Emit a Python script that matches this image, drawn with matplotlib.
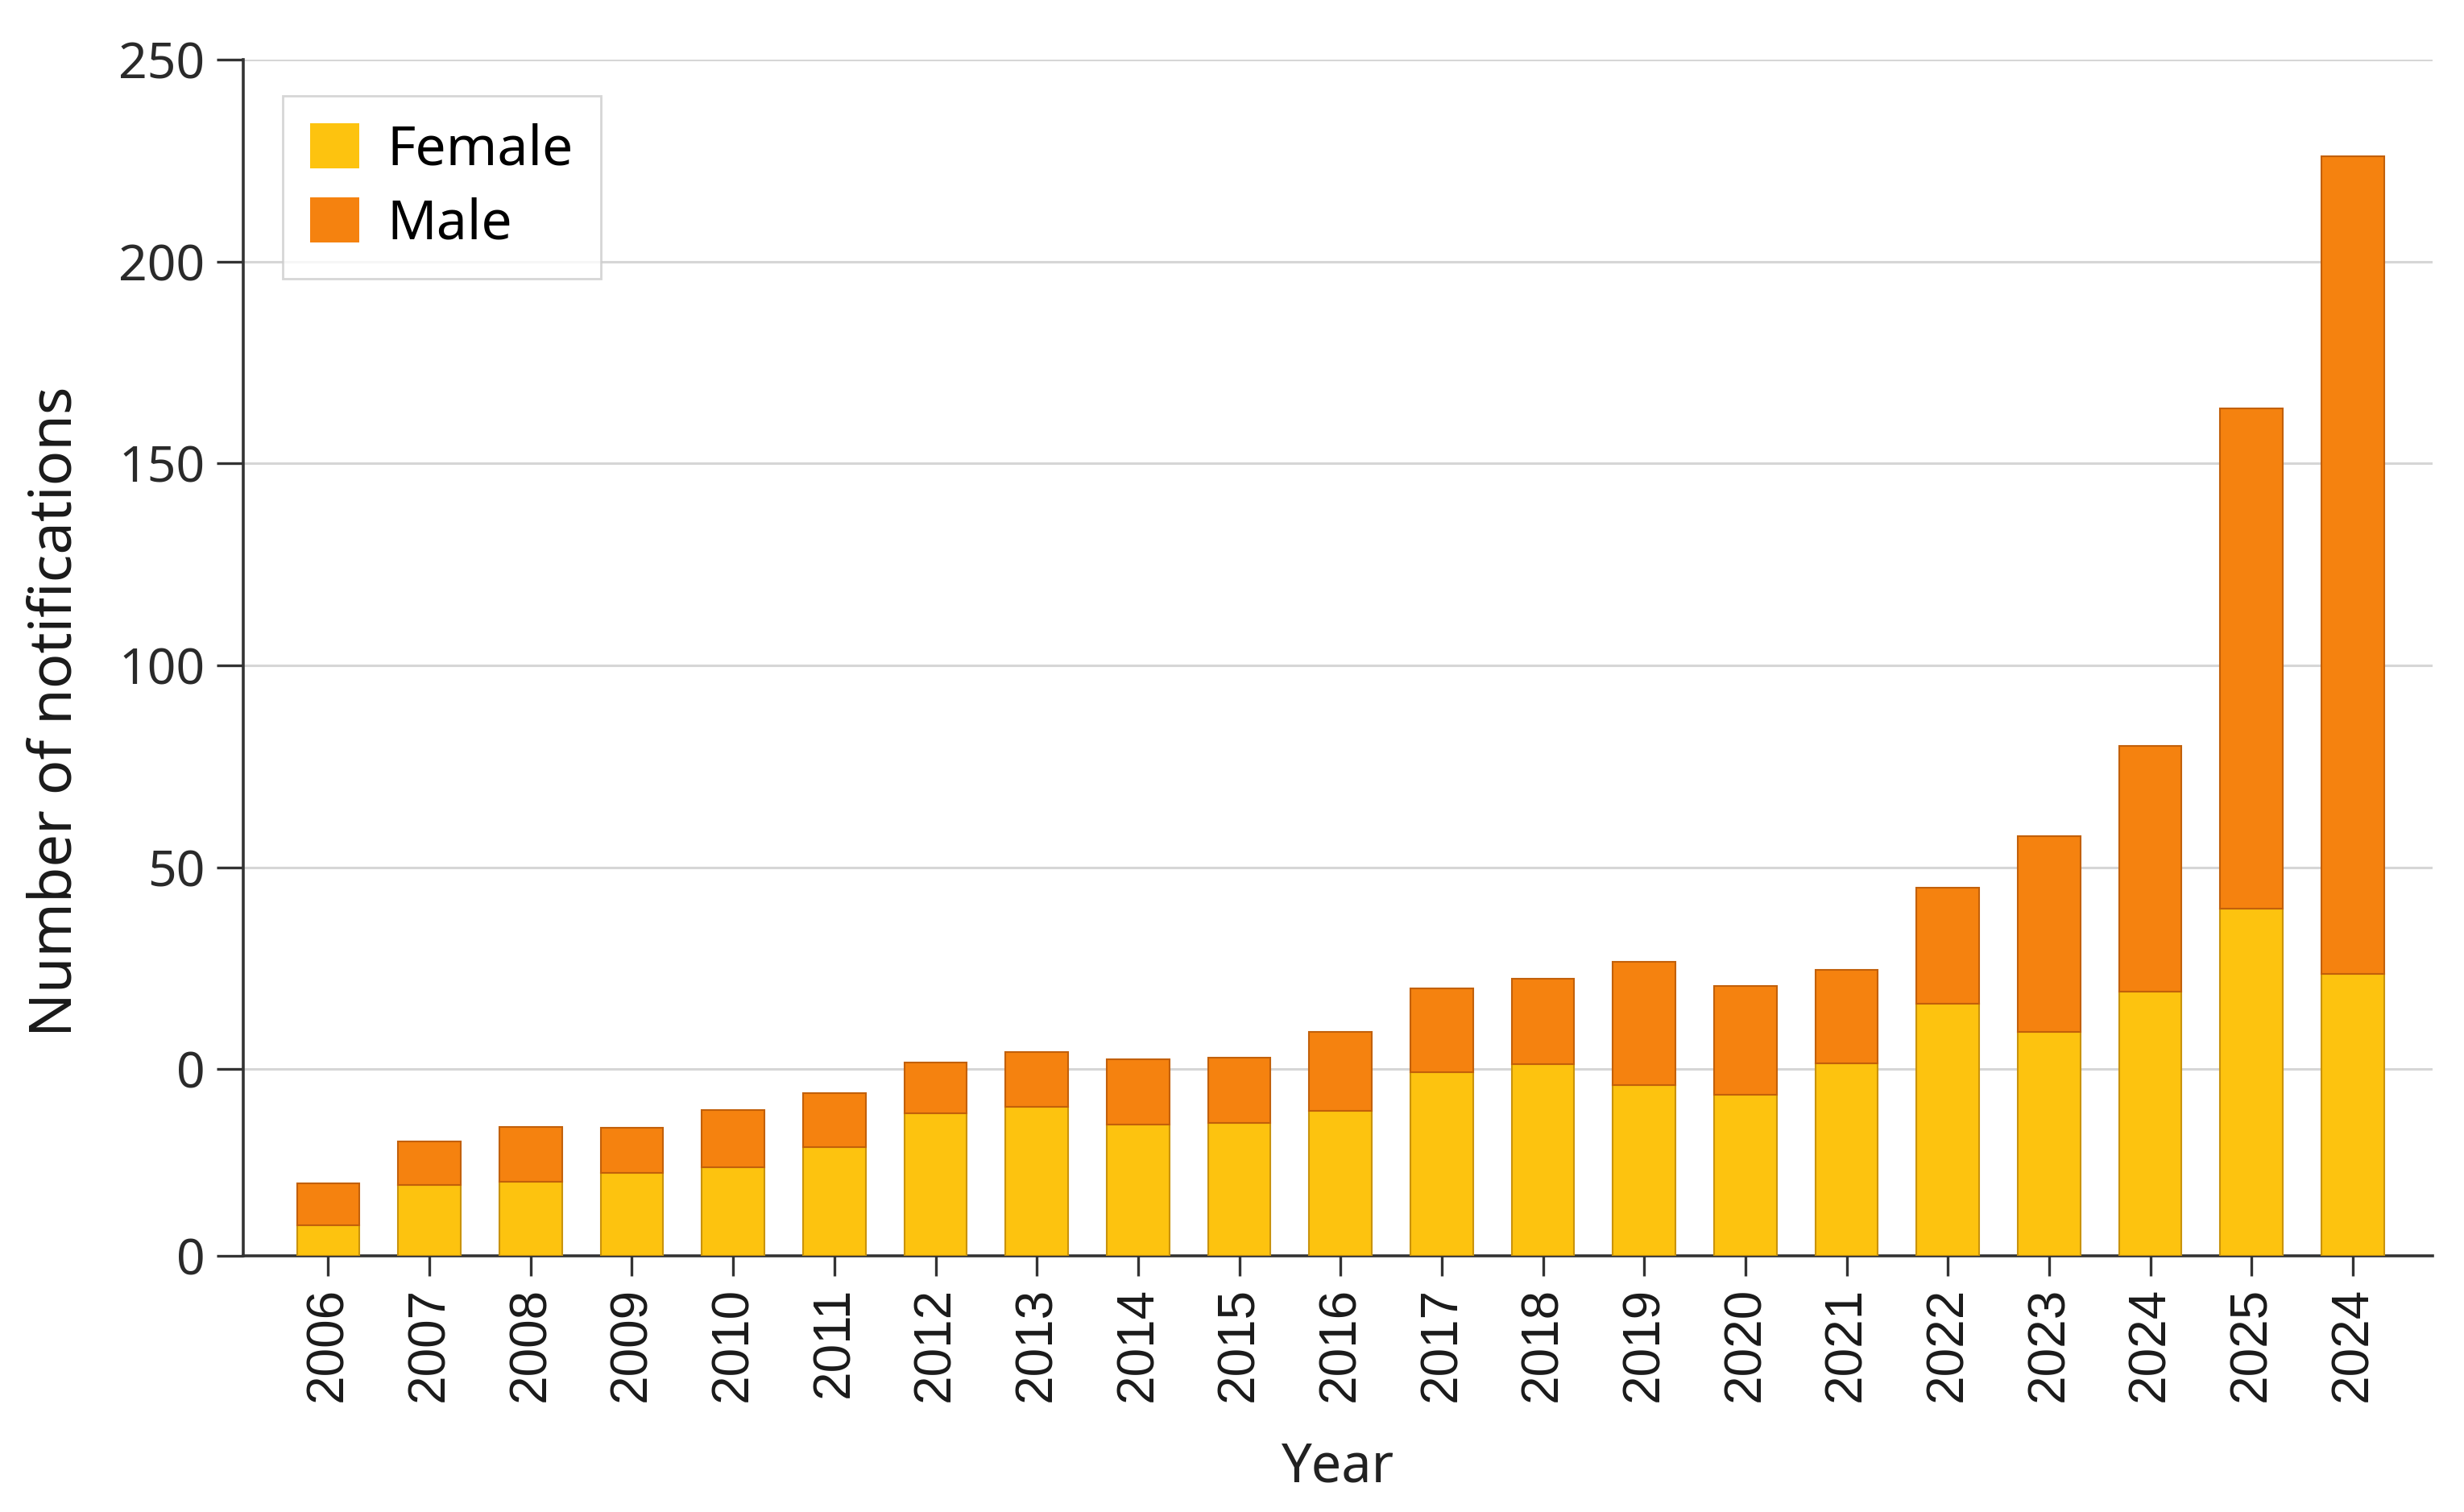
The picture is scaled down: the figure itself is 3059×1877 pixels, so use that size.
import matplotlib
matplotlib.use("Agg")
import matplotlib.pyplot as plt
import numpy as np

# Data (bar heights in the chart's own vertical units, measured from the baseline)
years = ["2006", "2007", "2008", "2009", "2010", "2011", "2012", "2013", "2014",
         "2015", "2016", "2017", "2018", "2019", "2020", "2021", "2022", "2023",
         "2024", "2025", "2024"]
female = [7.5, 17.6, 18.3, 20.6, 22.0, 27.0, 35.3, 36.9, 32.5, 32.9, 35.9,
          45.4, 47.5, 42.2, 39.9, 47.7, 62.5, 55.4, 65.5, 85.9, 69.8]
male = [10.5, 10.7, 13.7, 11.2, 14.1, 13.3, 12.5, 13.5, 16.1, 16.2, 19.5,
        20.9, 21.2, 30.6, 26.9, 23.1, 28.7, 48.5, 60.8, 123.9, 202.5]
ytick_pos = [0, 46.2, 96.2, 146.2, 196.2, 246.2, 296.2]
ytick_labels = ["0", "0", "50", "100", "150", "200", "250"]

plt.rcParams['font.family'] = ['Noto Sans', 'DejaVu Sans']

fig = plt.figure(figsize=(30.59, 18.77), dpi=100)
ax = fig.add_axes([0.0987, 0.1694, 0.8886, 0.7912])

x = np.arange(len(years))
w = 0.62
fcol = "#FDC30F"
mcol = "#F5820F"
ax.bar(x, female, width=w, color=fcol, edgecolor="#C9930C", linewidth=1.5,
       label="Female", zorder=3)
ax.bar(x, male, width=w, bottom=female, color=mcol, edgecolor="#C2600A",
       linewidth=1.5, label="Male", zorder=3)

ax.set_xlim(-0.84, len(years) - 1 + 0.79)
ax.set_ylim(0, ytick_pos[-1])
ax.set_yticks(ytick_pos)
ax.set_yticklabels(ytick_labels)
ax.set_xticks(x)
ax.set_xticklabels(years, rotation=90, family=['Liberation Sans', 'DejaVu Sans'])

for yv in ytick_pos[1:]:
    ax.axhline(yv, color="#d6d6d6", linewidth=2.2, zorder=1)

for s in ["top", "right"]:
    ax.spines[s].set_visible(False)
for s in ["left", "bottom"]:
    ax.spines[s].set_color("#333333")
    ax.spines[s].set_linewidth(2.6)

ax.tick_params(axis="y", length=24, width=2.4, color="#333333", labelsize=45,
               labelcolor="#2a2a2a", pad=10)
ax.tick_params(axis="x", length=18, width=2.4, color="#333333", labelsize=46,
               labelcolor="#1a1a1a", pad=10)

ax.set_ylabel("Number of notifications", fontsize=52, color="#1a1a1a")
ax.yaxis.set_label_coords(-0.072, 0.455)
ax.set_xlabel("Year", fontsize=48, color="#222222", labelpad=34)

leg = ax.legend(loc="upper left", bbox_to_anchor=(0.018, 0.97), fontsize=49,
                frameon=True, fancybox=False, handlelength=0.9, handleheight=0.9,
                handletextpad=0.5, borderpad=0.5, labelspacing=0.35,
                borderaxespad=0, edgecolor="#cccccc")
leg.get_frame().set_linewidth(2)
for h in leg.legend_handles:
    h.set_edgecolor("none")

fig.savefig("out.png", dpi=100, facecolor="white")
